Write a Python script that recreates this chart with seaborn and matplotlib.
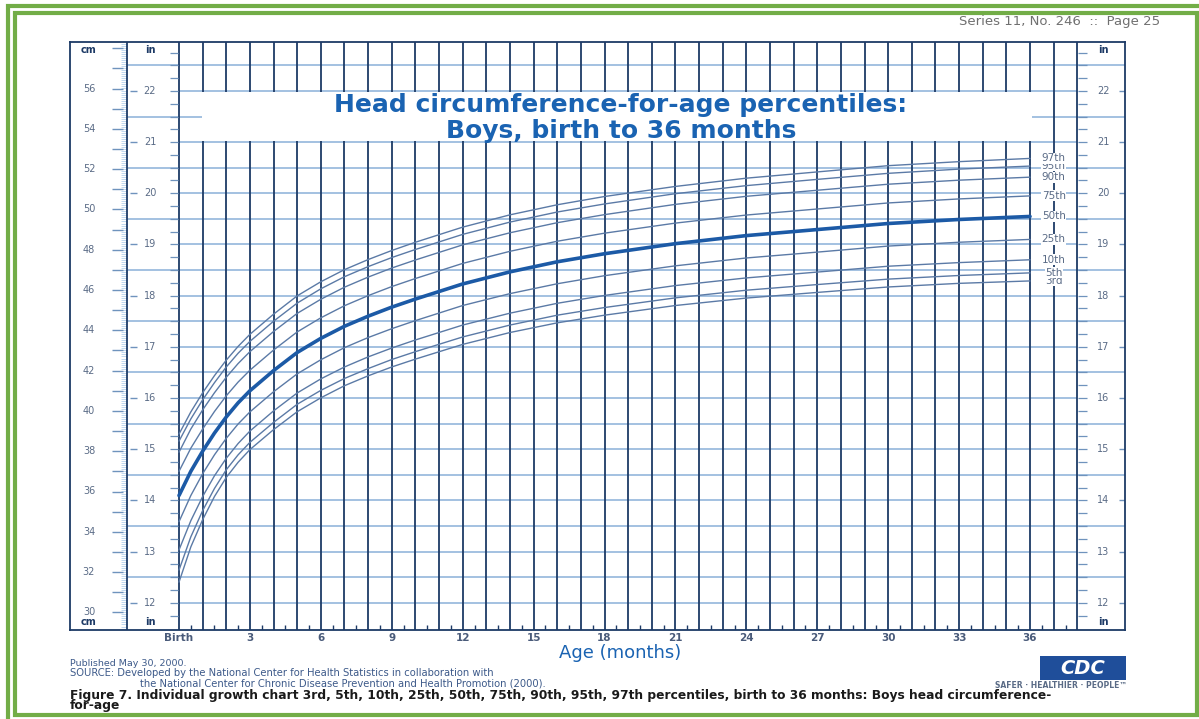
import numpy as np
import pandas as pd
import matplotlib
matplotlib.use("Agg")
import matplotlib.pyplot as plt
from matplotlib.patches import Rectangle
import seaborn as sns

# Head circumference (cm), boys birth to 36 months
age_months = [0, 0.5, 1, 1.5, 2, 2.5, 3, 4, 5, 6, 7, 8, 9, 10, 12, 14, 16, 18, 21, 24, 27, 30, 33, 36]
p3 = [31.50, 33.25, 34.60, 35.75, 36.70, 37.45, 38.08, 39.07, 39.96, 40.65, 41.25, 41.74,
      42.18, 42.57, 43.30, 43.89, 44.37, 44.75, 45.23, 45.60, 45.88, 46.15, 46.33, 46.45]
p5 = [32.10, 33.75, 35.05, 36.15, 37.08, 37.82, 38.44, 39.43, 40.33, 41.02, 41.61, 42.10,
      42.55, 42.94, 43.67, 44.26, 44.75, 45.13, 45.61, 45.99, 46.27, 46.54, 46.72, 46.85]
p10 = [33.10, 34.55, 35.75, 36.78, 37.65, 38.38, 39.00, 40.00, 40.89, 41.59, 42.18, 42.68,
       43.12, 43.52, 44.26, 44.85, 45.34, 45.73, 46.22, 46.60, 46.89, 47.18, 47.36, 47.50]
p25 = [34.50, 35.80, 36.88, 37.82, 38.64, 39.35, 39.95, 40.95, 41.84, 42.54, 43.14, 43.64,
       44.08, 44.48, 45.23, 45.82, 46.31, 46.71, 47.20, 47.59, 47.88, 48.18, 48.37, 48.51]
p50 = [35.80, 37.00, 38.00, 38.90, 39.70, 40.40, 41.00, 42.00, 42.90, 43.60, 44.20, 44.70,
       45.15, 45.55, 46.30, 46.90, 47.40, 47.80, 48.30, 48.70, 49.00, 49.30, 49.50, 49.65]
p75 = [37.00, 38.15, 39.10, 39.97, 40.75, 41.43, 42.02, 43.02, 43.92, 44.62, 45.22, 45.72,
       46.17, 46.57, 47.32, 47.92, 48.42, 48.82, 49.32, 49.72, 50.02, 50.32, 50.52, 50.67]
p90 = [37.95, 39.10, 40.05, 40.90, 41.67, 42.35, 42.94, 43.94, 44.84, 45.54, 46.14, 46.64,
       47.09, 47.49, 48.24, 48.84, 49.34, 49.74, 50.25, 50.65, 50.95, 51.25, 51.45, 51.60]
p95 = [38.50, 39.60, 40.55, 41.40, 42.18, 42.86, 43.45, 44.45, 45.35, 46.06, 46.66, 47.16,
       47.61, 48.01, 48.76, 49.37, 49.87, 50.27, 50.78, 51.18, 51.49, 51.79, 52.00, 52.15]
p97 = [38.85, 39.95, 40.90, 41.75, 42.52, 43.20, 43.80, 44.80, 45.71, 46.41, 47.01, 47.51,
       47.96, 48.37, 49.12, 49.73, 50.23, 50.64, 51.14, 51.55, 51.86, 52.17, 52.37, 52.53]
percentile_names = ["3rd", "5th", "10th", "25th", "50th", "75th", "90th", "95th", "97th"]

cm_labels = list(range(30, 57, 2))
in_labels = list(range(12, 23))
age_ticks = list(range(0, 37, 3))
age_tick_labels = ["Birth"] + [str(m) for m in age_ticks[1:]]

NAVY = "#1d3a66"
GRID_BLUE = "#93b6db"
CURVE = "#5b7aa6"
MEDIAN = "#1c5aa6"
TITLE_BLUE = "#1a63b2"
LABEL_GREY = "#5a6b86"
GREEN = "#72ad47"

sns.set_style("white")
plt.rcParams["font.family"] = ["DejaVu Sans"]

W, H = 1199, 719
fig = plt.figure(figsize=(W / 100, H / 100), dpi=100)


def mx(px):
    # pixel column -> months
    return (px - 179) / 23.64


def cy(py):
    # pixel row -> cm
    return 56 - (py - 88.5) / 20.15


ax = fig.add_axes([70 / W, 1 - 630 / H, (1125 - 70) / W, (630 - 42) / H])

df = pd.DataFrame({
    "age": age_months * 9,
    "hc": p3 + p5 + p10 + p25 + p50 + p75 + p90 + p95 + p97,
    "pct": np.repeat(percentile_names, len(age_months)),
})

sns.lineplot(data=df[df.pct != "50th"], x="age", y="hc", units="pct", estimator=None,
             color=CURVE, lw=1.0, ax=ax, zorder=5)
sns.lineplot(data=df[df.pct == "50th"], x="age", y="hc", estimator=None,
             color=MEDIAN, lw=2.6, ax=ax, zorder=6)

x_lo, x_hi = mx(70), mx(1125)
y_lo, y_hi = cy(630), cy(42)
ax.set_xlim(x_lo, x_hi)
ax.set_ylim(y_lo, y_hi)
ax.set_xlabel("")
ax.set_ylabel("")

# grid: monthly verticals, half-inch horizontals
ax.vlines(np.arange(0, 39), y_lo, y_hi, color=NAVY, lw=1.3, zorder=2)
ax.vlines(mx(127), y_lo, y_hi, color=NAVY, lw=1.3, zorder=2)
for h in np.arange(12, 23, 0.5):
    if h % 1 == 0:
        ax.hlines(h * 2.54, 0, 38, color=GRID_BLUE, lw=1.2, zorder=1)
    else:
        ax.hlines(h * 2.54, mx(127), x_hi, color=GRID_BLUE, lw=1.2, zorder=1)
ax.vlines(np.arange(0.5, 38, 1), y_lo, y_lo + 0.25, color=NAVY, lw=1.0, zorder=2)

# cm ruler on the left
for c in np.arange(29.2, 58.3, 0.1):
    ax.hlines(c, mx(121), mx(127), color="#a6c9ea", lw=0.5, zorder=1)
for c in range(30, 59):
    ax.hlines(c, mx(112), mx(123), color="#6f93bd", lw=1.0, zorder=2)
for c in cm_labels:
    ax.text(mx(89), c, str(c), ha="center", va="center", fontsize=7, color=LABEL_GREY)
ax.text(mx(89), cy(50), "cm", ha="center", va="center", fontsize=7, color=NAVY, weight="bold")
ax.text(mx(89), cy(622), "cm", ha="center", va="center", fontsize=7, color=NAVY, weight="bold")

# inch columns
for q in np.arange(11.75, 23.0, 0.25):
    ax.hlines(q * 2.54, mx(170), mx(178), color="#6f93bd", lw=0.9, zorder=2)
    ax.hlines(q * 2.54, mx(1078), mx(1087), color="#6f93bd", lw=0.9, zorder=2)
for i in in_labels:
    c = i * 2.54
    ax.hlines(c, mx(130), mx(137), color="#6f93bd", lw=1.0)
    ax.hlines(c, mx(1119), x_hi, color="#6f93bd", lw=1.0)
    ax.text(mx(150), c, str(i), ha="center", va="center", fontsize=7, color=LABEL_GREY)
    ax.text(mx(1103), c, str(i), ha="center", va="center", fontsize=7, color=LABEL_GREY)
for xp in (150, 1103):
    ax.text(mx(xp), cy(50), "in", ha="center", va="center", fontsize=7, color=NAVY, weight="bold")
    ax.text(mx(xp), cy(622), "in", ha="center", va="center", fontsize=7, color=NAVY, weight="bold")

# title block
ax.add_patch(Rectangle((0.96, 21 * 2.54 + 0.07), 36.08 - 0.96, 2.54 - 0.14,
                       facecolor="white", edgecolor="none", zorder=3))
ax.text(mx(621), cy(105), "Head circumference-for-age percentiles:", ha="center", va="center",
        fontsize=18, weight="bold", color=TITLE_BLUE, zorder=4)
ax.text(mx(621), cy(131), "Boys, birth to 36 months", ha="center", va="center",
        fontsize=18, weight="bold", color=TITLE_BLUE, zorder=4)

# percentile labels at the curve ends
for name, series in zip(percentile_names, [p3, p5, p10, p25, p50, p75, p90, p95, p97]):
    ax.text(37, series[-1], name, ha="center", va="center", fontsize=7.5, color=LABEL_GREY,
            zorder=7, bbox=dict(facecolor="white", edgecolor="none", pad=0.3))

ax.set_xticks(age_ticks, age_tick_labels)
ax.tick_params(axis="x", length=0, pad=2.5, labelsize=7.5, labelcolor="#4a5b7a")
for lbl in ax.get_xticklabels():
    lbl.set_fontweight("bold")
ax.tick_params(axis="y", left=False, labelleft=False)
for s in ax.spines.values():
    s.set_visible(True)
    s.set_color(NAVY)
    s.set_linewidth(1.3)

fig.text(620 / W, 1 - 653 / H, "Age (months)", ha="center", va="center", fontsize=13, color=TITLE_BLUE)

# page header and footer
fig.text(1160 / W, 1 - 22 / H, "Series 11, No. 246  ::  Page 25", ha="right", va="center",
         fontsize=9.5, color="#707070")
fig.text(70 / W, 1 - 664 / H, "Published May 30, 2000.", ha="left", va="center", fontsize=6.8, color="#3d5a8a")
fig.text(70 / W, 1 - 673.5 / H,
         "SOURCE: Developed by the National Center for Health Statistics in collaboration with",
         ha="left", va="center", fontsize=7.2, color="#3d5a8a")
fig.text(140 / W, 1 - 683 / H,
         "the National Center for Chronic Disease Prevention and Health Promotion (2000).",
         ha="left", va="center", fontsize=7.2, color="#3d5a8a")
fig.text(70 / W, 1 - 695 / H,
         "Figure 7. Individual growth chart 3rd, 5th, 10th, 25th, 50th, 75th, 90th, 95th, 97th "
         "percentiles, birth to 36 months: Boys head circumference-",
         ha="left", va="center", fontsize=8.8, weight="bold", color="#1a1a1a")
fig.text(70 / W, 1 - 706 / H, "for-age", ha="left", va="center", fontsize=8.8, weight="bold", color="#1a1a1a")

# CDC logo
fig.add_artist(Rectangle((1040 / W, 1 - 680 / H), 86 / W, 24 / H, transform=fig.transFigure,
                         facecolor="#1f4e9a", edgecolor="none"))
fig.text(1083 / W, 1 - 668 / H, "CDC", ha="center", va="center", fontsize=14, weight="bold",
         style="italic", color="white")
fig.text(1127 / W, 1 - 686 / H, "SAFER \u00b7 HEALTHIER \u00b7 PEOPLE\u2122", ha="right", va="center",
         fontsize=5.5, weight="bold", color="#5a6b86")

# green double frame
fig.add_artist(Rectangle((8 / W, -10 / H), 1300 / W, (H + 10 - 5.5) / H, transform=fig.transFigure,
                         facecolor="none", edgecolor=GREEN, lw=3))
fig.add_artist(Rectangle((15 / W, 1 - 715 / H), 1181.5 / W, 702 / H, transform=fig.transFigure,
                         facecolor="none", edgecolor=GREEN, lw=3))

fig.savefig("out.png", dpi=100)
